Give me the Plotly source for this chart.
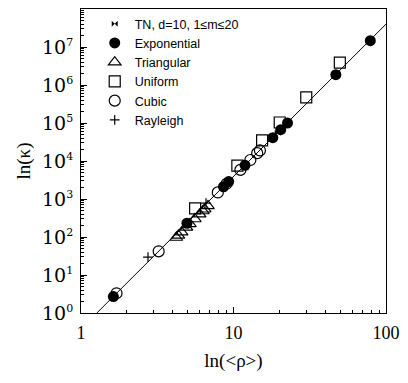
import plotly.graph_objects as go

# <rho> and kappa for each weight distribution
tn_rho = [5.0, 9.0, 19.5]
tn_kappa = [240, 2520, 55500]

exp_rho = [1.63, 4.95, 8.6, 9.3, 11.9, 18.1, 20.4, 22.6, 46.9, 78.9]
exp_kappa = [2.7, 230, 2100, 2880, 7700, 41200, 66500, 100000, 1.87e6, 1.47e7]

tri_rho = [4.22, 4.35, 4.57, 4.92, 5.18, 5.58, 6.0, 6.3, 6.47, 6.8]
tri_kappa = [97, 110, 134, 180, 221, 298, 398, 484, 538, 657]

uni_rho = [5.6, 10.6, 15.4, 20.1, 30.0, 49.8]
uni_kappa = [570, 7600, 35000, 103000, 470000, 3.9e6]

cub_rho = [1.71, 3.23, 7.89, 9.0, 11.1, 12.9, 14.3, 14.9]
cub_kappa = [3.3, 42, 1490, 2520, 5830, 10630, 16060, 18930]

ray_rho = [2.75, 6.6]
ray_kappa = [29.5, 780]

# power-law fit through all points
fit_rho = [1.27, 100]
fit_kappa = [1.0, 4.0e7]

y_tickvals = [1, 10, 100, 1e3, 1e4, 1e5, 1e6, 1e7, 1e8]
y_ticktext = ["10<sup><span style='font-size:11px'>%d</span></sup>" % k for k in range(9)]
x_tickvals = [1, 10, 100]
x_ticktext = ["1", "10", "100"]

serif = "Liberation Serif"
sans = "Liberation Sans"

fig = go.Figure()
fig.add_trace(go.Scatter(x=fit_rho, y=fit_kappa, mode="lines",
                         line=dict(color="black", width=1), showlegend=False,
                         hoverinfo="skip"))
fig.add_trace(go.Scatter(x=tn_rho, y=tn_kappa, mode="markers", name="TN, d=10, 1≤m≤20",
                         marker=dict(symbol="bowtie", size=6, color="black")))
fig.add_trace(go.Scatter(x=exp_rho, y=exp_kappa, mode="markers", name="Exponential",
                         marker=dict(symbol="circle", size=11, color="black")))
fig.add_trace(go.Scatter(x=tri_rho, y=tri_kappa, mode="markers", name="Triangular",
                         marker=dict(symbol="triangle-up-open", size=11, color="black",
                                     line=dict(width=1.2))))
fig.add_trace(go.Scatter(x=uni_rho, y=uni_kappa, mode="markers", name="Uniform",
                         marker=dict(symbol="square-open", size=11, color="black",
                                     line=dict(width=1.2))))
fig.add_trace(go.Scatter(x=cub_rho, y=cub_kappa, mode="markers", name="Cubic",
                         marker=dict(symbol="circle-open", size=11, color="black",
                                     line=dict(width=1.2))))
fig.add_trace(go.Scatter(x=ray_rho, y=ray_kappa, mode="markers", name="Rayleigh",
                         marker=dict(symbol="cross-thin-open", size=7, color="black",
                                     line=dict(width=1.2))))

fig.update_layout(
    width=408, height=383,
    margin=dict(l=81, r=17, t=8, b=70),
    paper_bgcolor="white", plot_bgcolor="white",
    font=dict(family=serif, color="black"),
    legend=dict(x=0.045, y=1.0, xanchor="left", yanchor="top",
                bgcolor="rgba(0,0,0,0)", font=dict(family=sans, size=12.5)),
    xaxis=dict(type="log", range=[0, 2], tickvals=x_tickvals, ticktext=x_ticktext,
               ticks="inside", ticklen=6, tickcolor="black",
               minor=dict(ticks="inside", ticklen=3, tickcolor="black",
                          tickvals=[2, 3, 4, 5, 6, 7, 8, 9, 20, 30, 40, 50, 60, 70, 80, 90]),
               showline=True, linecolor="black", linewidth=1, mirror=True,
               showgrid=False, zeroline=False, tickfont=dict(size=18),
               ticklabelstandoff=3,
               title=dict(text="ln(&lt;ρ&gt;)", font=dict(size=19), standoff=12)),
    yaxis=dict(type="log", range=[0, 8], tickvals=y_tickvals, ticktext=y_ticktext,
               ticks="inside", ticklen=6, tickcolor="black",
               minor=dict(ticks="inside", ticklen=3, tickcolor="black",
                          tickvals=[m * 10 ** k for k in range(8) for m in range(2, 10)]),
               showline=True, linecolor="black", linewidth=1, mirror=True,
               showgrid=False, zeroline=False, tickfont=dict(family="DejaVu Serif", size=19),
               ticklabelstandoff=3,
               title=dict(text="ln(κ)", font=dict(size=19), standoff=6)),
)

fig.write_html("out.html")
